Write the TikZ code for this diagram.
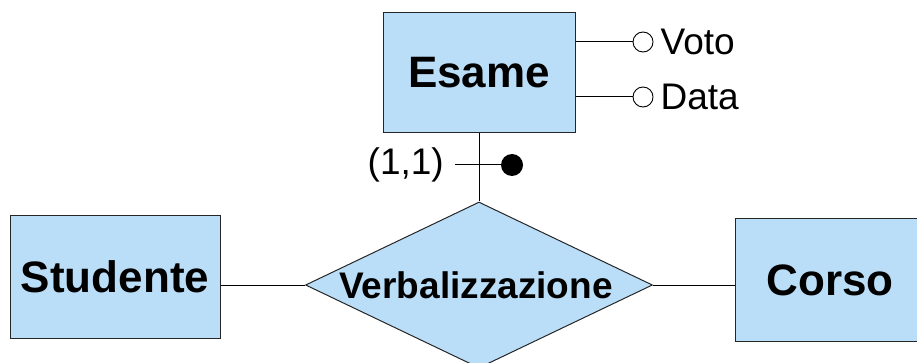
\documentclass[tikz,border=0pt]{standalone}
\usepackage{fontspec}
\setmainfont{Liberation Sans}
\usepackage{tikz}
\usetikzlibrary{positioning,shapes.geometric}
\definecolor{erblue}{HTML}{BBDEF8}

\begin{document}
\begin{tikzpicture}[
  x=1pt, y=-1pt,
  entity/.style={draw=black!85, line width=1pt, fill=erblue, inner sep=0pt, font=\fontsize{44}{50}\selectfont\bfseries},
  relship/.style={diamond, draw=black!85, line width=1pt, fill=erblue, inner sep=0pt, minimum width=347pt, minimum height=166pt},
  attrdot/.style={circle, draw, line width=0.9pt, fill=white, inner sep=0pt, minimum size=20pt},
  iddot/.style={circle, fill=black, inner sep=0pt, minimum size=22pt},
  attrtext/.style={font=\fontsize{37}{43}\selectfont, inner sep=3pt},
  link/.style={line width=1pt}
]
\useasboundingbox (0,0) rectangle (917,363);
\node[entity, minimum width=192pt, minimum height=120pt] (esame) at (479,73) {Esame};
\node[entity, minimum width=210pt, minimum height=122pt] (studente) at (115,277) {Studente};
\node[entity, minimum width=190pt, minimum height=122pt] (corso) at (830,280) {Corso};
\node[relship, label={[font=\fontsize{37}{43}\selectfont\bfseries, xshift=-3pt]center:Verbalizzazione}] (verb) at (479,285) {};
% attributes of Esame
\node[attrdot, label={[attrtext, label distance=4pt]right:Voto}] (voto) at (643,42) {};
\node[attrdot, label={[attrtext, label distance=4pt]right:Data}] (data) at (643,97) {};
\draw[link] (esame.east |- voto) -- (voto.west);
\draw[link] (esame.east |- data) -- (data.west);
% external identifier with cardinality
\coordinate (idstart) at (455,165);
\node[iddot] (idend) at (512,165) {};
\node[attrtext, left=8pt of idstart] (card) {(1,1)};
\draw[link] (idstart) -- (idend);
\draw[link] (esame.south) -- (verb.north);
\draw[link] (studente.east |- verb) -- (verb.west);
\draw[link] (verb.east) -- (corso.west |- verb);
\end{tikzpicture}
\end{document}
